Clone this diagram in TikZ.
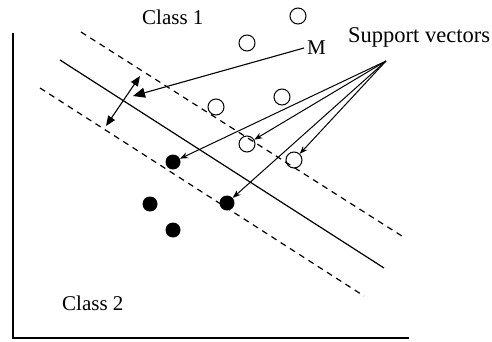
\documentclass[tikz,border=0pt]{standalone}
\usepackage{fontspec}
\setmainfont{Liberation Serif}
\usetikzlibrary{arrows.meta}
\begin{document}
\begin{tikzpicture}[x=1pt,y=-1pt,
  lbl/.style={anchor=base west,inner sep=0pt,font=\fontsize{21}{21}\selectfont},
  opn/.style={circle,draw,line width=1pt,minimum size=16pt,inner sep=0pt},
  fil/.style={circle,fill,minimum size=15pt,inner sep=0pt},
  axis/.style={line width=1.6pt},
  margin/.style={line width=1.2pt,dash pattern=on 6pt off 5pt},
  hyper/.style={line width=1.2pt},
  svarrow/.style={line width=1pt,-{Stealth[length=8pt,width=6pt]}},
  marrow/.style={line width=1.1pt,-{Triangle[length=12pt,width=10pt]}},
  darrow/.style={line width=1.1pt,{Triangle[length=10pt,width=8pt]}-{Triangle[length=10pt,width=8pt]}}]
\useasboundingbox (0,0) rectangle (492,342);
% axes
\coordinate (o) at (13,338);
\coordinate (ytop) at (13,33);
\coordinate (xend) at (409,338);
\draw[axis] (ytop) -- (o) -- (xend);
% margin lines and hyperplane
\draw[margin] (81,32) -- (405,238);
\draw[hyper] (60,60) -- (384,268);
\draw[margin] (40,88) -- (364,296);
% open circles (class 1)
\node[opn] (c1) at (298,16) {};
\node[opn] (c2) at (247,43) {};
\node[opn] (c3) at (216,107) {};
\node[opn] (c4) at (282,97) {};
\node[opn] (c5) at (247,144) {};
\node[opn] (c6) at (294,160) {};
% filled circles (class 2)
\node[fil] (f1) at (173,162) {};
\node[fil] (f2) at (227,203) {};
\node[fil] (f3) at (150,204) {};
\node[fil] (f4) at (173,230) {};
% labels
\node[lbl] (class1) at (142,25) {Class 1};
\node[lbl] (class2) at (62,310) {Class 2};
\node[lbl,font=\fontsize{22.5}{22.5}\selectfont] (sv) at (348,43) {Support vectors};
\node[lbl] (m) at (307,55) {M};
% support vector arrows
\coordinate (svs) at (386,61);
\draw[svarrow] (svs) -- (f1);
\draw[svarrow] (svs) -- (c5);
\draw[svarrow] (svs) -- (c6);
\draw[svarrow] (svs) -- (f2);
% margin arrow
\coordinate (mstart) at (304,48);
\coordinate (mtip) at (133,96);
\draw[marrow] (mstart) -- (mtip);
\coordinate (da) at (140,76);
\coordinate (db) at (106,126);
\draw[darrow] (da) -- (db);
\end{tikzpicture}
\end{document}
